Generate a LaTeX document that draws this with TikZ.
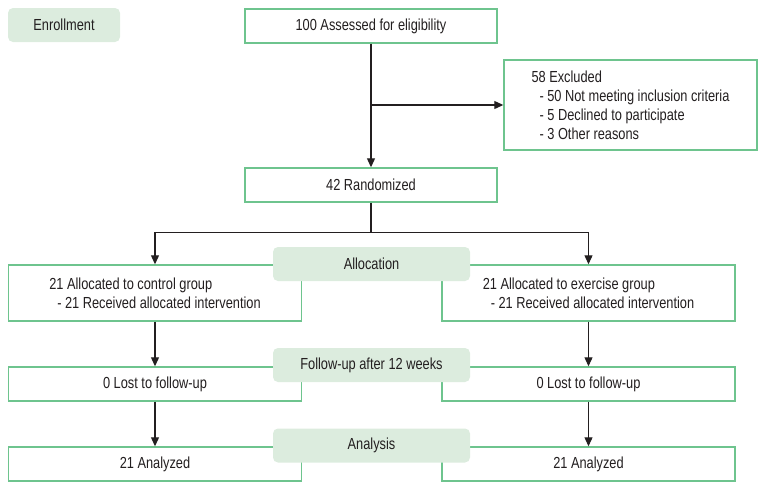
\documentclass[tikz,border=0pt]{standalone}
\usepackage{fontspec}
\setmainfont{Liberation Sans}[FakeStretch=0.80]
\usepackage{tikz}
\usetikzlibrary{arrows.meta, positioning, calc}
\definecolor{boxgreen}{RGB}{110, 196, 142}
\definecolor{stagefill}{RGB}{220, 236, 222}
\definecolor{inkgray}{RGB}{35, 31, 32}

\begin{document}
\begin{tikzpicture}[x=1pt, y=-1pt,
    font=\fontsize{16}{19}\selectfont, text=inkgray,
    flowbox/.style={draw=boxgreen, line width=1.4pt, fill=white, align=left,
      inner sep=0pt, minimum height=34pt},
    stagebox/.style={fill=stagefill, rounded corners=5pt, inner sep=0pt,
      minimum height=34pt},
    flowarrow/.style={line width=1.1pt, draw=inkgray,
      -{Triangle[length=9pt, width=8pt]}}]
  \useasboundingbox (0,0) rectangle (766,490);

  % Enrollment
  \node[stagebox, minimum width=112pt] (enrol) at (64,25) {Enrollment};
  \node[flowbox, minimum width=252pt] (assess) at (371,26) {100 Assessed for eligibility};
  \node[flowbox, minimum width=253pt, minimum height=90pt] (excl) at (630.5,105)
    {58 Excluded\\
     \hspace{8pt}- 50 Not meeting inclusion criteria\\
     \hspace{8pt}- 5 Declined to participate\\
     \hspace{8pt}- 3 Other reasons};
  \node[flowbox, minimum width=252pt] (rand) at (371,185) {42 Randomized};

  \draw[flowarrow] (assess.south) -- (rand.north);
  \draw[flowarrow] (assess.south |- excl.west) -- (excl.west);

  % Allocation
  \node[flowbox, minimum width=293pt, minimum height=56pt] (ctrl) at (155,293)
    {21 Allocated to control group\\
     \hspace{8pt}- 21 Received allocated intervention};
  \node[flowbox, minimum width=293pt, minimum height=56pt] (exer) at (588.5,293)
    {21 Allocated to exercise group\\
     \hspace{8pt}- 21 Received allocated intervention};
  \coordinate (split) at ($(rand.south)+(0,30)$);
  \draw[line width=1.1pt, draw=inkgray] (rand.south) -- (split);
  \draw[flowarrow] (split) -| (ctrl.north);
  \draw[flowarrow] (split) -| (exer.north);

  % Follow-up
  \node[flowbox, minimum width=293pt] (lostc) at (155,384) {0 Lost to follow-up};
  \node[flowbox, minimum width=293pt] (loste) at (588.5,384) {0 Lost to follow-up};
  \draw[flowarrow] (ctrl.south) -- (lostc.north);
  \draw[flowarrow] (exer.south) -- (loste.north);

  % Analysis
  \node[flowbox, minimum width=293pt] (anac) at (155,464) {21 Analyzed};
  \node[flowbox, minimum width=293pt] (anae) at (588.5,464) {21 Analyzed};
  \draw[flowarrow] (lostc.south) -- (anac.north);
  \draw[flowarrow] (loste.south) -- (anae.north);

  % stage labels on top
  \node[stagebox, minimum width=197pt] (alloc) at (371.5,264) {Allocation};
  \node[stagebox, minimum width=197pt] (follow) at (371.5,365) {Follow-up after 12 weeks};
  \node[stagebox, minimum width=197pt] (analysis) at (371.5,445.5) {Analysis};
\end{tikzpicture}
\end{document}
